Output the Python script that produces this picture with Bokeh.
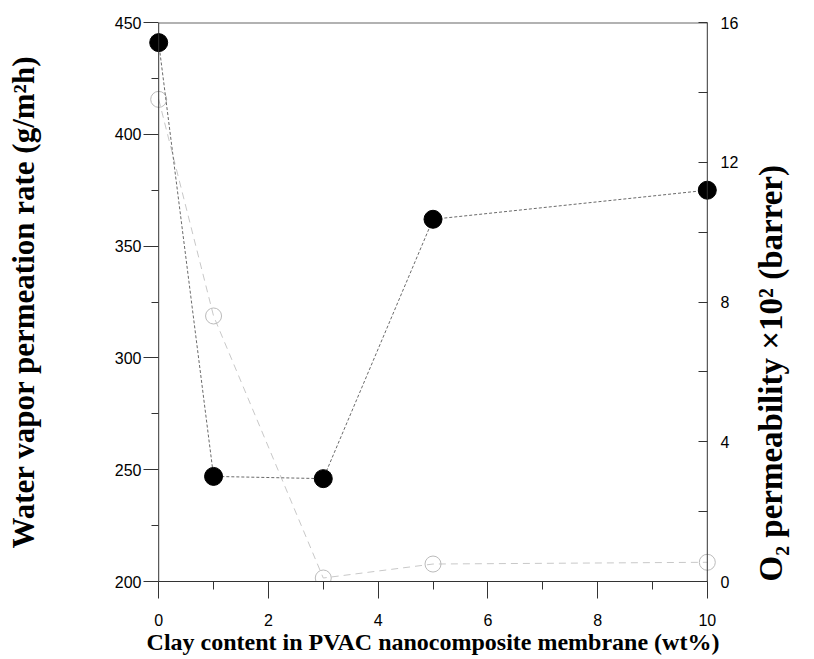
from math import pi
from bokeh.plotting import figure
from bokeh.models import Range1d, LinearAxis, FixedTicker, Span
from bokeh.embed import file_html
from bokeh.resources import INLINE

# ---- data ----
clay = [0, 1, 3, 5, 10]
water_vapor = [441, 247, 246, 362, 375]
o2_perm = [13.8, 7.6, 0.1, 0.5, 0.55]

x_ticks = [0, 2, 4, 6, 8, 10]
x_minor = [1, 3, 5, 7, 9]
left_ticks = [200, 250, 300, 350, 400, 450]
left_minor = [225, 275, 325, 375, 425]
right_ticks = [0, 4, 8, 12, 16]
right_minor = [2, 6, 10, 14]

x_title = "Clay content in PVAC nanocomposite membrane (wt%)"
left_title = "Water vapor permeation rate (g/m\u00b2h)"
right_title = "O\u2082 permeability \u00d710\u00b2 (barrer)"

AX = "#333333"
TICK_FONT = "Liberation Sans"
TITLE_FONT = "Liberation Serif"

p = figure(width=814, height=659, output_backend="svg", toolbar_location=None,
           x_range=Range1d(-0.35, 10.35), y_range=Range1d(200, 450),
           x_axis_location=None, y_axis_location=None,
           min_border_left=139, min_border_right=88,
           min_border_top=22, min_border_bottom=78)
p.extra_y_ranges = {"o2": Range1d(0, 16)}
p.grid.visible = False
p.outline_line_color = None
p.background_fill_color = "white"
p.border_fill_color = "white"

# bottom axis
xa = LinearAxis(bounds=(0, 10), ticker=FixedTicker(ticks=x_ticks, minor_ticks=x_minor))
xa.axis_line_color = AX
xa.major_tick_line_color = AX
xa.minor_tick_line_color = AX
xa.major_tick_out = 17
xa.major_tick_in = 0
xa.minor_tick_out = 8
xa.minor_tick_in = 0
xa.major_label_text_font = TICK_FONT
xa.major_label_text_font_size = "16px"
xa.major_label_text_color = "black"
xa.major_label_standoff = 15
xa.axis_label = x_title
xa.axis_label_text_font = TITLE_FONT
xa.axis_label_text_font_style = "bold"
xa.axis_label_text_font_size = "24px"
xa.axis_label_text_color = "black"
xa.axis_label_standoff = 0
p.add_layout(xa, "below")

# left axis: sits at the frame edge, ticks reach in to x = 0
ya = LinearAxis(bounds=(200, 450), ticker=FixedTicker(ticks=left_ticks, minor_ticks=left_minor))
ya.axis_line_color = None
ya.major_tick_line_color = AX
ya.minor_tick_line_color = AX
ya.major_tick_in = 19
ya.major_tick_out = -4
ya.minor_tick_in = 19
ya.minor_tick_out = -12
ya.major_label_text_font = TICK_FONT
ya.major_label_text_font_size = "16px"
ya.major_label_text_color = "black"
ya.major_label_standoff = 2
ya.axis_label = left_title
ya.axis_label_text_font = TITLE_FONT
ya.axis_label_text_font_style = "bold"
ya.axis_label_text_font_size = "31px"
ya.axis_label_text_color = "black"
ya.axis_label_standoff = 71
p.add_layout(ya, "left")

# right axis for O2 permeability
ra = LinearAxis(y_range_name="o2", bounds=(0, 16),
                ticker=FixedTicker(ticks=right_ticks, minor_ticks=right_minor))
ra.axis_line_color = None
ra.major_tick_line_color = AX
ra.minor_tick_line_color = AX
ra.major_tick_in = 28
ra.major_tick_out = -19
ra.minor_tick_in = 28
ra.minor_tick_out = -19
ra.major_label_text_font = TICK_FONT
ra.major_label_text_font_size = "16px"
ra.major_label_text_color = "black"
ra.major_label_standoff = 13
ra.axis_label = right_title
ra.axis_label_text_font = TITLE_FONT
ra.axis_label_text_font_style = "bold"
ra.axis_label_text_font_size = "33px"
ra.axis_label_text_color = "black"
ra.axis_label_standoff = 30
try:
    ra.axis_label_orientation = pi / 2
except Exception:
    pass
try:
    ra.axis_label_align = "start"
except Exception:
    pass
p.add_layout(ra, "right")

# axis lines at x = 0 and x = 10, frame line at the top
p.add_layout(Span(location=x_ticks[0], dimension="height", line_color=AX, line_width=1))
p.add_layout(Span(location=x_ticks[-1], dimension="height", line_color=AX, line_width=1))
p.segment(x0=[x_ticks[0]], y0=[left_ticks[-1]], x1=[x_ticks[-1]], y1=[left_ticks[-1]],
          line_color="#666666", line_width=2)

# series
p.line(clay, o2_perm, y_range_name="o2", line_color="#c8c8c8", line_width=1, line_dash="7 5")
p.scatter(clay, o2_perm, y_range_name="o2", size=16, fill_color=None,
          line_color="#bbbbbb", line_width=1)
p.line(clay, water_vapor, line_color="#6a6a6a", line_width=1, line_dash="3 2")
p.scatter(clay, water_vapor, size=18, fill_color="black", line_color="black")

open("out.html", "w").write(file_html(p, INLINE))
